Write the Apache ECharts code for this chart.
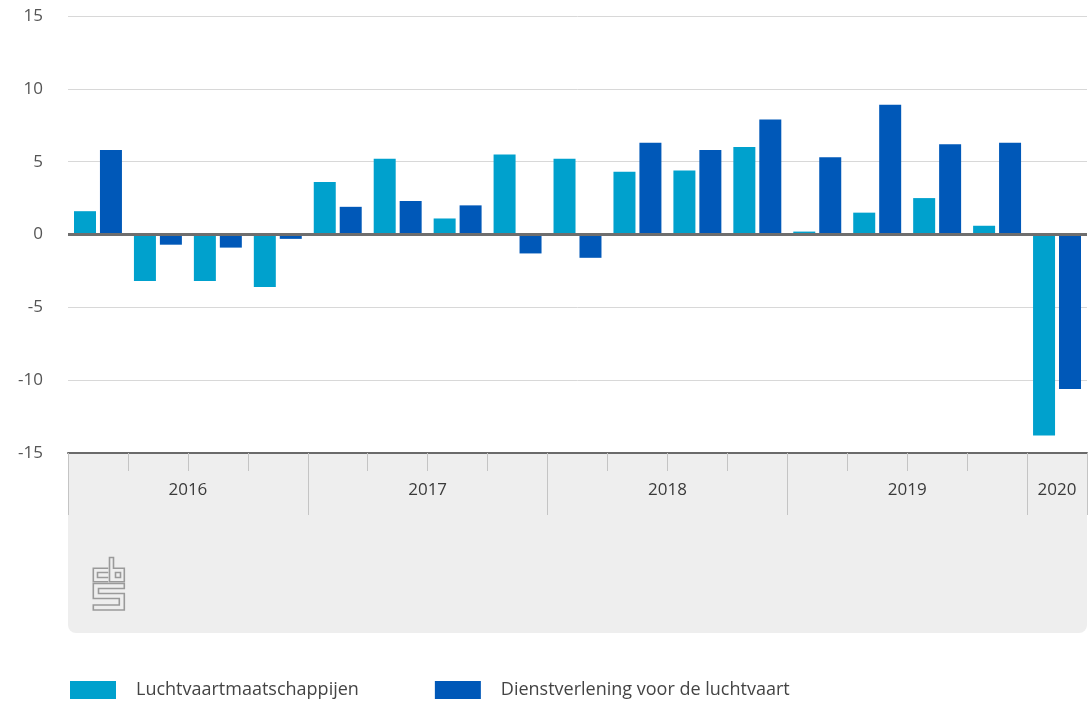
<!DOCTYPE html>
<html>
<head>
<meta charset="utf-8">
<script src="https://cdn.jsdelivr.net/npm/echarts@6/dist/echarts.min.js"></script>
<style>
html,body{margin:0;padding:0;background:#fff;}
#chart{width:1090px;height:702px;}
</style>
</head>
<body>
<div id="chart"></div>
<script>
// ---- data ----
var quarters = ['2016 K1','2016 K2','2016 K3','2016 K4',
                '2017 K1','2017 K2','2017 K3','2017 K4',
                '2018 K1','2018 K2','2018 K3','2018 K4',
                '2019 K1','2019 K2','2019 K3','2019 K4',
                '2020 K1'];
var years = ['2016','2017','2018','2019','2020'];
var quartersPerYear = [4,4,4,4,1];
var seriesNames = ['Luchtvaartmaatschappijen','Dienstverlening voor de luchtvaart'];
var luchtvaartmaatschappijen = [1.6,-3.2,-3.2,-3.6, 3.6,5.2,1.1,5.5, 5.2,4.3,4.4,6.0, 0.2,1.5,2.5,0.6, -13.8];
var dienstverlening = [5.8,-0.7,-0.9,-0.3, 1.9,2.3,2.0,-1.3, -1.6,6.3,5.8,7.9, 5.3,8.9,6.2,6.3, -10.6];
var yTicks = [-15,-10,-5,0,5,10,15];

// ---- derived year axis (half-quarter slots) ----
var halfSlots = [];
var yearLabelAt = {};
var yearBoundaryAt = {};
(function(){
  var n = quarters.length * 2;
  for (var i = 0; i <= n; i++) halfSlots.push('h' + i);
  var start = 0;
  yearBoundaryAt[0] = true;
  for (var k = 0; k < years.length; k++) {
    yearLabelAt[start * 2 + quartersPerYear[k]] = years[k];
    start += quartersPerYear[k];
    yearBoundaryAt[start * 2] = true;
  }
})();

var FONT = '"Open Sans", "DejaVu Sans", sans-serif';
var chart = echarts.init(document.getElementById('chart'), null, {renderer:'canvas'});

var option = {
  animation: false,
  backgroundColor: '#ffffff',
  textStyle: { fontFamily: FONT },
  grid: { left: 68, right: 3, top: 16, bottom: 249, containLabel: false },
  graphic: [
    {
      type: 'rect', z: -10, silent: true,
      shape: { x: 68, y: 453, width: 1019, height: 180, r: [0,0,8,8] },
      style: { fill: '#eeeeee' }
    },
    {
      type: 'group', silent: true, z: 5,
      children: [
        { type:'polyline', shape:{ points:[[108.3,568.3],[93.3,568.3],[93.3,581.7],[108.3,581.7]] }, style:{ stroke:'#9a9a9a', lineWidth:1.6, fill:null } },
        { type:'polyline', shape:{ points:[[108.3,572.5],[97.5,572.5],[97.5,577.5],[108.3,577.5]] }, style:{ stroke:'#9a9a9a', lineWidth:1.6, fill:null } },
        { type:'polygon', shape:{ points:[[109.5,557.5],[113.5,557.5],[113.5,568.3],[124.3,568.3],[124.3,581.7],[109.5,581.7]] }, style:{ stroke:'#9a9a9a', lineWidth:1.6, fill:null } },
        { type:'rect', shape:{ x:115.5, y:572.5, width:5, height:5 }, style:{ stroke:'#9a9a9a', lineWidth:1.6, fill:null } },
        { type:'polygon', shape:{ points:[[124.3,583.5],[93.3,583.5],[93.3,598.5],[119.3,598.5],[119.3,605],[93.3,605],[93.3,610],[124.3,610],[124.3,593.5],[98.5,593.5],[98.5,588.5],[124.3,588.5]] }, style:{ stroke:'#9a9a9a', lineWidth:1.6, fill:null } }
      ]
    }
  ],
  legend: {
    left: 70, top: 681, padding: 0,
    icon: 'rect', itemWidth: 46, itemHeight: 18, itemGap: 76,
    data: seriesNames,
    textStyle: { fontSize: 18, color: '#444444', fontFamily: FONT, padding: [0,0,0,15] },
    selectedMode: false
  },
  xAxis: [
    {
      type: 'category',
      data: quarters,
      boundaryGap: true,
      position: 'bottom',
      axisLine: { show: true, onZero: false, lineStyle: { color: '#6a6a6a', width: 2 } },
      axisTick: { show: true, interval: 0, length: 18, lineStyle: { color: '#c4c4c4', width: 1 } },
      axisLabel: { show: false },
      splitLine: { show: false }
    },
    {
      type: 'category',
      data: halfSlots,
      boundaryGap: false,
      position: 'bottom',
      axisLine: { show: false, onZero: false },
      axisTick: {
        show: true, length: 62,
        interval: function (i) { return !!yearBoundaryAt[i]; },
        lineStyle: { color: '#c4c4c4', width: 1 }
      },
      axisLabel: {
        show: true, margin: 29,
        interval: function (i) { return yearLabelAt[i] !== undefined; },
        formatter: function (v, i) { return yearLabelAt[i] || ''; },
        fontSize: 17, color: '#3a3a3a', fontFamily: FONT
      },
      splitLine: { show: false }
    }
  ],
  yAxis: {
    type: 'value',
    min: yTicks[0], max: yTicks[yTicks.length - 1], interval: 5,
    axisLine: { show: false },
    axisTick: { show: false },
    axisLabel: { fontSize: 17, color: '#555555', margin: 25, fontFamily: FONT, padding: [4,0,0,0] },
    splitLine: { show: true, lineStyle: { color: '#d8d8d8', width: 1 } }
  },
  series: [
    {
      name: seriesNames[0], type: 'bar', xAxisIndex: 0,
      data: luchtvaartmaatschappijen,
      barCategoryGap: '20%', barGap: '18%',
      itemStyle: { color: '#00a1cd' },
      markLine: {
        silent: true, symbol: ['none','none'],
        label: { show: false },
        lineStyle: { color: '#6e6e6e', width: 3, type: 'solid' },
        data: [{ yAxis: 0 }]
      }
    },
    {
      name: seriesNames[1], type: 'bar', xAxisIndex: 0,
      data: dienstverlening,
      barCategoryGap: '20%', barGap: '18%',
      itemStyle: { color: '#0058b8' }
    }
  ]
};
chart.setOption(option);
</script>
</body>
</html>
